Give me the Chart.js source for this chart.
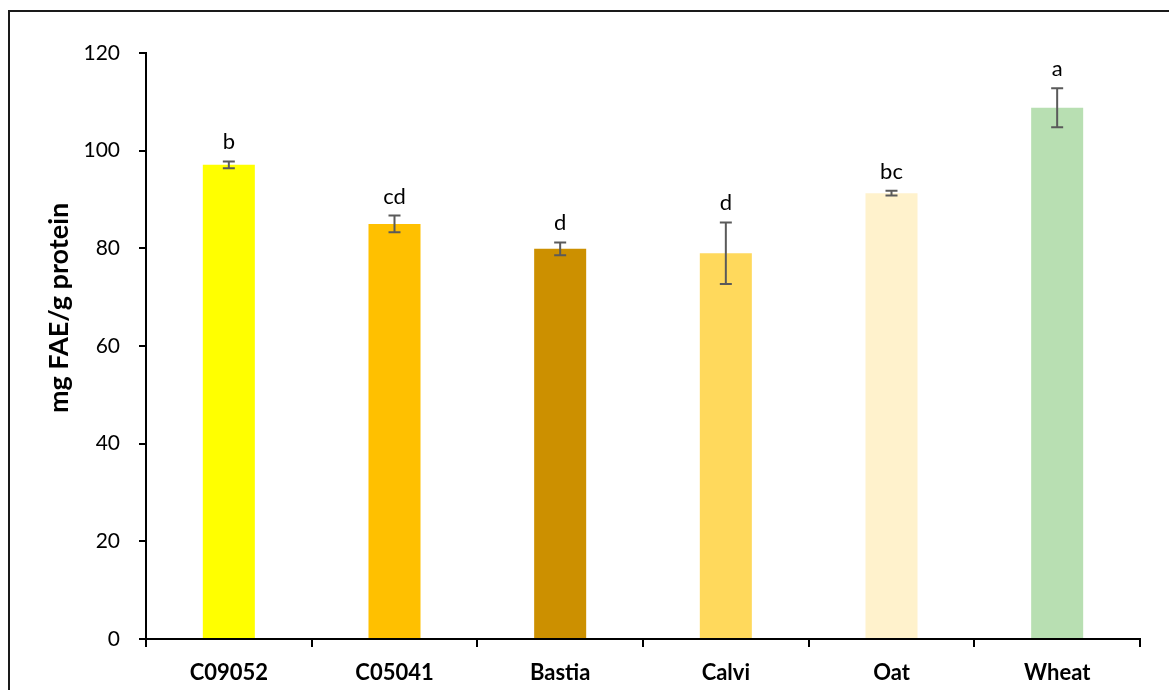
<!DOCTYPE html>
<html>
<head>
<meta charset="utf-8">
<style>
  html, body { margin: 0; padding: 0; background: #fff; overflow: hidden; }
  #wrap { position: relative; width: 1169px; height: 690px; }
</style>
<script src="https://cdn.jsdelivr.net/npm/chart.js@4.4.0/dist/chart.umd.min.js"></script>
</head>
<body>
<div id="wrap"><canvas id="chart" width="1169" height="690"></canvas></div>
<script>
// Ferulic acid equivalents per gram protein, by sample
const categories = ['C09052', 'C05041', 'Bastia', 'Calvi', 'Oat', 'Wheat'];
const means      = [97.1, 85.0, 79.9, 79.0, 91.3, 108.8];
const errors     = [0.7, 1.7, 1.3, 6.3, 0.5, 4.0];
const groups     = ['b', 'cd', 'd', 'd', 'bc', 'a'];
const barColors  = ['#FFFF00', '#FFC000', '#CC9000', '#FFD95C', '#FFF2CC', '#B8DFB2'];
const yTicks     = [0, 20, 40, 60, 80, 100, 120];
const yTitle     = 'mg FAE/g protein';

const FONT = 'Lato, "Open Sans", sans-serif';

// outer frame around the figure
const framePlugin = {
  id: 'frame',
  beforeDraw(chart) {
    const ctx = chart.ctx;
    ctx.save();
    ctx.strokeStyle = '#1a1a1a';
    ctx.lineWidth = 2;
    ctx.strokeRect(9, 11, 1300, 800);
    ctx.restore();
  }
};

// rotated value-axis title, sitting a little above the axis middle
const yTitlePlugin = {
  id: 'yTitle',
  afterDraw(chart) {
    const ctx = chart.ctx;
    const area = chart.chartArea;
    ctx.save();
    ctx.translate(59, area.top + (area.bottom - area.top) * 0.435);
    ctx.rotate(-Math.PI / 2);
    ctx.fillStyle = '#000';
    ctx.font = 'bold 27px ' + FONT;
    ctx.textAlign = 'center';
    ctx.textBaseline = 'middle';
    ctx.fillText(yTitle, 0, 0);
    ctx.restore();
  }
};

// error bars and significance letters above each bar
const errorPlugin = {
  id: 'errorBars',
  afterDatasetsDraw(chart) {
    const ctx = chart.ctx;
    const y = chart.scales.y;
    const meta = chart.getDatasetMeta(0);
    ctx.save();
    meta.data.forEach((bar, i) => {
      const x = bar.x;
      const top = y.getPixelForValue(means[i] + errors[i]);
      const bot = y.getPixelForValue(means[i] - errors[i]);
      ctx.strokeStyle = '#5a5a5a';
      ctx.lineWidth = 2;
      ctx.beginPath();
      ctx.moveTo(x, top); ctx.lineTo(x, bot);
      ctx.moveTo(x - 6, top); ctx.lineTo(x + 6, top);
      ctx.moveTo(x - 6, bot); ctx.lineTo(x + 6, bot);
      ctx.stroke();
      ctx.fillStyle = '#000';
      ctx.font = '22px ' + FONT;
      ctx.textAlign = 'center';
      ctx.textBaseline = 'alphabetic';
      ctx.fillText(groups[i], x, top - 12);
    });
    ctx.restore();
  }
};

new Chart(document.getElementById('chart'), {
  type: 'bar',
  data: {
    labels: categories,
    datasets: [{
      data: means,
      backgroundColor: barColors,
      borderWidth: 0,
      categoryPercentage: 1,
      barPercentage: 0.314
    }]
  },
  options: {
    responsive: false,
    animation: false,
    devicePixelRatio: 1,
    layout: { padding: { left: 20, right: 29, top: 53, bottom: 0 } },
    plugins: {
      legend: { display: false },
      tooltip: { enabled: false }
    },
    scales: {
      x: {
        offset: true,
        grid: {
          offset: true,
          drawOnChartArea: false,
          drawTicks: true,
          tickLength: 8,
          color: '#000',
          lineWidth: 2
        },
        border: { color: '#000', width: 2 },
        ticks: {
          color: '#000',
          padding: 13,
          font: { family: FONT, size: 22, weight: 'bold' }
        },
        afterFit(scale) { scale.height = 51; }
      },
      y: {
        min: 0,
        max: 120,
        afterBuildTicks(scale) { scale.ticks = yTicks.map(v => ({ value: v })); },
        grid: {
          drawOnChartArea: false,
          drawTicks: true,
          tickLength: 7,
          color: '#000',
          lineWidth: 2
        },
        border: { color: '#000', width: 2 },
        ticks: {
          color: '#000',
          padding: 19,
          font: { family: FONT, size: 21 }
        },
        title: { display: false },
        afterFit(scale) { scale.width = 126; }
      }
    }
  },
  plugins: [framePlugin, errorPlugin, yTitlePlugin]
});
</script>
</body>
</html>
